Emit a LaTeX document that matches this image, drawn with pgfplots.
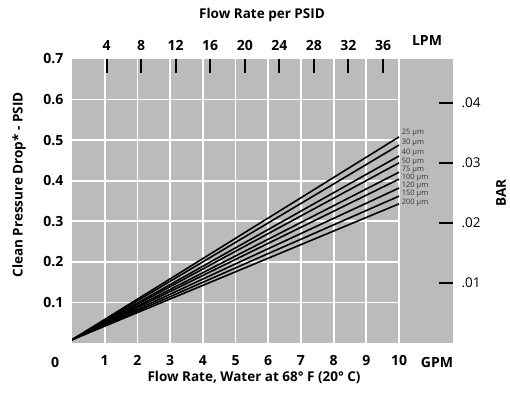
\documentclass[border=0pt]{standalone}
\usepackage{fontspec}
\setmainfont{Open Sans}
\usepackage{pgfplots}
\pgfplotsset{compat=1.18}
\definecolor{panel}{RGB}{187,187,187}
\definecolor{lbl}{RGB}{55,55,55}
\newcommand{\tfont}{\bfseries\fontsize{14}{15}\selectfont}
\newcommand{\hfont}{\bfseries\fontsize{13.5}{14}\selectfont}
\begin{document}
\begin{tikzpicture}[x=1pt,y=1pt]
\path[use as bounding box] (-72,-52) rectangle (438,343);
\begin{axis}[
  at={(0,0)}, anchor=south west,
  scale only axis, width=381pt, height=284pt,
  xmin=0, xmax=11.65, ymin=0, ymax=0.7,
  axis line style={draw=none},
  axis background/.style={fill=panel},
  xtick={1,2,3,4,5,6,7,8,9,10},
  ytick={0.1,0.2,0.3,0.4,0.5,0.6,0.7},
  major tick length=0pt,
  xmajorgrids, major grid style={white, line width=1.8pt},
  /pgf/number format/assume math mode=true,
  xticklabel style={font=\tfont, yshift=-9pt},
  yticklabel style={font=\tfont, xshift=-5pt,
    /pgf/number format/fixed, /pgf/number format/precision=1, /pgf/number format/fixed zerofill},
]
\draw[white, line width=1.8pt] (axis cs:0,0.1) -- (axis cs:10,0.1);
\draw[white, line width=1.8pt] (axis cs:0,0.2) -- (axis cs:10,0.2);
\draw[white, line width=1.8pt] (axis cs:0,0.3) -- (axis cs:10,0.3);
\draw[white, line width=1.8pt] (axis cs:0,0.4) -- (axis cs:10,0.4);
\draw[white, line width=1.8pt] (axis cs:0,0.5) -- (axis cs:10,0.5);
\draw[white, line width=1.8pt] (axis cs:0,0.6) -- (axis cs:10,0.6);
\addplot[black, line width=1.6pt] coordinates {(0,0.008) (10,0.508)};
\addplot[black, line width=1.6pt] coordinates {(0,0.008) (10,0.488)};
\addplot[black, line width=1.6pt] coordinates {(0,0.008) (10,0.461)};
\addplot[black, line width=1.6pt] coordinates {(0,0.008) (10,0.444)};
\addplot[black, line width=1.6pt] coordinates {(0,0.008) (10,0.421)};
\addplot[black, line width=1.6pt] coordinates {(0,0.008) (10,0.404)};
\addplot[black, line width=1.6pt] coordinates {(0,0.008) (10,0.382)};
\addplot[black, line width=1.6pt] coordinates {(0,0.008) (10,0.362)};
\addplot[black, line width=1.6pt] coordinates {(0,0.008) (10,0.343)};
\begin{scope}[every node/.style={anchor=west, inner sep=0pt, text=lbl, font=\fontsize{7.5}{8}\selectfont}]
\node at (axis cs:10.08,0.518) {25 µm};
\node at (axis cs:10.08,0.493) {30 µm};
\node at (axis cs:10.08,0.468) {40 µm};
\node at (axis cs:10.08,0.446) {50 µm};
\node at (axis cs:10.08,0.426) {75 µm};
\node at (axis cs:10.08,0.407) {100 µm};
\node at (axis cs:10.08,0.387) {120 µm};
\node at (axis cs:10.08,0.367) {150 µm};
\node at (axis cs:10.08,0.345) {200 µm};
\end{scope}
\end{axis}
\begin{axis}[
  at={(0,0)}, anchor=south west,
  scale only axis, width=381pt, height=284pt,
  xmin=0, xmax=44.1, ymin=0, ymax=0.0473,
  axis x line*=top, axis y line*=right,
  axis line style={draw=none},
  scaled y ticks=false, scaled x ticks=false,
  xtick={4,8,12,16,20,24,28,32,36},
  ytick={0.01,0.02,0.03,0.04},
  yticklabels={.01,.02,.03,.04},
  tick align=inside, major tick length=14pt,
  tick style={black, line width=2pt},
  /pgf/number format/assume math mode=true,
  xticklabel style={font=\tfont, yshift=5pt},
  yticklabel style={font=\fontsize{13.5}{14}\selectfont, xshift=5pt},
]
\addplot[draw=none] coordinates {(0,0)};
\end{axis}
\node[font=\hfont] at (190,328) {Flow Rate per PSID};
\node[font=\tfont] at (355,302) {LPM};
\node[font=\tfont] at (365,-19) {GPM};
\node[font=\tfont] at (-17,-19) {0};
\node[font=\hfont] at (182,-34) {Flow Rate, Water at 68° F (20° C)};
\node[font=\hfont, rotate=90] at (-53,158) {Clean Pressure Drop* - PSID};
\node[font=\hfont, rotate=90] at (429,150) {BAR};
\end{tikzpicture}
\end{document}
